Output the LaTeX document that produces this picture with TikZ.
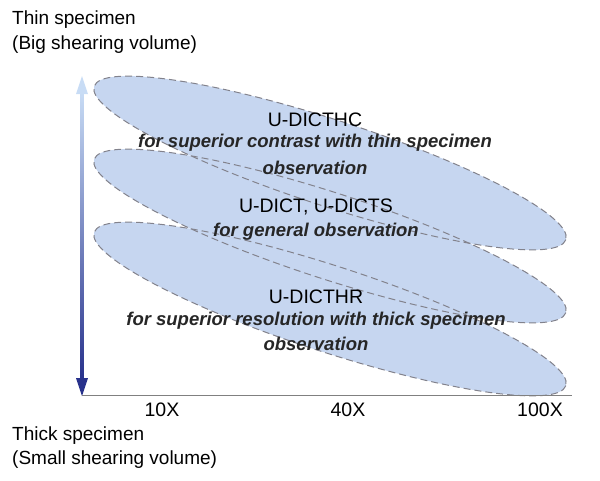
\documentclass[tikz,border=0pt]{standalone}
\usepackage{fontspec}
\setmainfont{Liberation Sans}
\usetikzlibrary{arrows.meta}
\definecolor{ellfill}{RGB}{198,214,240}
\definecolor{ellline}{RGB}{130,130,140}
\definecolor{axdark}{RGB}{40,50,140}
\definecolor{axlight}{RGB}{200,220,245}
\tikzset{
  lbl/.style={font=\fontsize{19.5}{22}\selectfont, inner sep=0pt},
  ilbl/.style={font=\fontsize{18.5}{22}\selectfont\bfseries\itshape, inner sep=0pt, text=black!85},
  side/.style={font=\fontsize{19}{22}\selectfont, anchor=west, inner sep=0pt},
}
\begin{document}
\begin{tikzpicture}[x=1pt,y=-1pt]
\useasboundingbox (0,0) rectangle (600,480);
\foreach \cy in {163,236,309}{
  \fill[ellfill, rotate around={-18:(330,\cy)}] (330,\cy) ellipse [x radius=248, y radius=43];
}
\foreach \cy in {163,236,309}{
  \draw[ellline, line width=1pt, dash pattern=on 7pt off 4pt, rotate around={-18:(330,\cy)}] (330,\cy) ellipse [x radius=248, y radius=43];
}
\coordinate (ybot) at (82,395);
\coordinate (xend) at (572,395);
\shade[top color=axlight, bottom color=axdark] (80.5,92) rectangle (83.5,380);
\fill[axlight] (76,94) -- (82,76) -- (88,94) -- cycle;
\fill[axdark] (76,378) -- (82,396) -- (88,378) -- cycle;
\draw[gray, line width=1pt] (ybot) -- (xend);
\node[lbl] (t10) at (162,410) {10X};
\node[lbl] (t40) at (348,410) {40X};
\node[lbl] (t100) at (540,410) {100X};
\node[lbl] (a1) at (315,120) {U-DICTHC};
\node[ilbl] (a2) at (315,143) {for superior contrast with thin specimen};
\node[ilbl] (a3) at (315,168) {observation};
\node[lbl] (b1) at (316,207) {U-DICT, U-DICTS};
\node[ilbl] (b2) at (316,232) {for general observation};
\node[lbl] (c1) at (316,297) {U-DICTHR};
\node[ilbl] (c2) at (316,321) {for superior resolution with thick specimen};
\node[ilbl] (c3) at (316,344) {observation};
\node[side] (s1) at (12,20) {Thin specimen};
\node[side] (s2) at (12,45) {(Big shearing volume)};
\node[side] (s3) at (12,436) {Thick specimen};
\node[side] (s4) at (12,460) {(Small shearing volume)};
\end{tikzpicture}
\end{document}
